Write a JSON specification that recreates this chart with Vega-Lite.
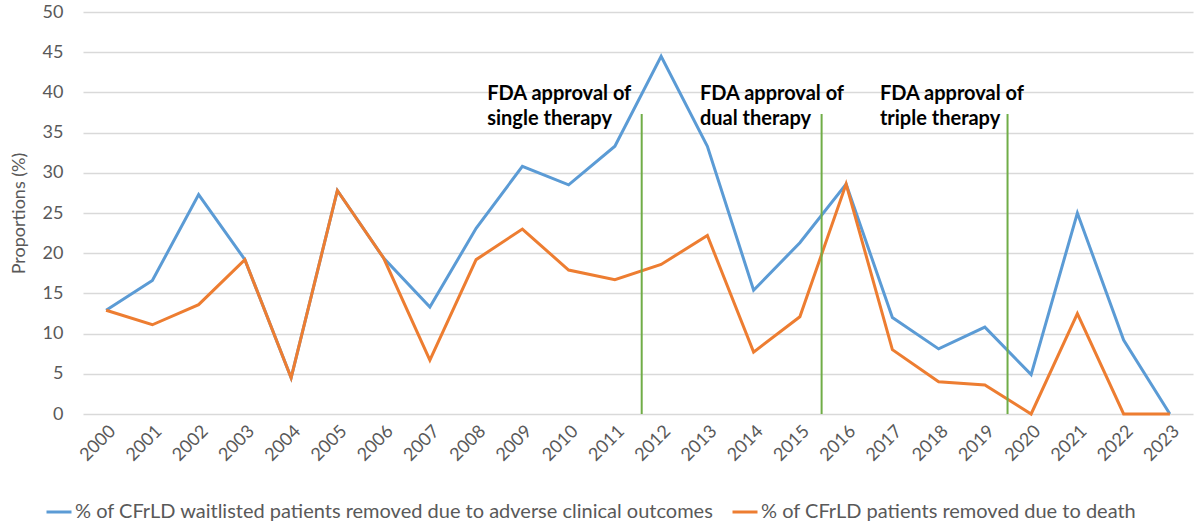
{
  "$schema": "https://vega.github.io/schema/vega-lite/v6.json",
  "autosize": {"type": "none"},
  "width": 1110,
  "height": 402,
  "padding": {"left": 83, "top": 12, "right": 7, "bottom": 115},
  "background": "white",
  "config": {
    "view": {"stroke": null},
    "font": "Lato",
    "axis": {"labelColor": "#595959", "titleColor": "#595959", "labelFont": "Lato", "titleFont": "Lato"}
  },
  "datasets": {
    "series": [
      {"year": 2000, "series": "% of CFrLD waitlisted patients removed due to adverse clinical outcomes", "value": 12.9},
      {"year": 2001, "series": "% of CFrLD waitlisted patients removed due to adverse clinical outcomes", "value": 16.6},
      {"year": 2002, "series": "% of CFrLD waitlisted patients removed due to adverse clinical outcomes", "value": 27.3},
      {"year": 2003, "series": "% of CFrLD waitlisted patients removed due to adverse clinical outcomes", "value": 19.2},
      {"year": 2004, "series": "% of CFrLD waitlisted patients removed due to adverse clinical outcomes", "value": 4.5},
      {"year": 2005, "series": "% of CFrLD waitlisted patients removed due to adverse clinical outcomes", "value": 27.8},
      {"year": 2006, "series": "% of CFrLD waitlisted patients removed due to adverse clinical outcomes", "value": 19.4},
      {"year": 2007, "series": "% of CFrLD waitlisted patients removed due to adverse clinical outcomes", "value": 13.3},
      {"year": 2008, "series": "% of CFrLD waitlisted patients removed due to adverse clinical outcomes", "value": 23.1},
      {"year": 2009, "series": "% of CFrLD waitlisted patients removed due to adverse clinical outcomes", "value": 30.8},
      {"year": 2010, "series": "% of CFrLD waitlisted patients removed due to adverse clinical outcomes", "value": 28.5},
      {"year": 2011, "series": "% of CFrLD waitlisted patients removed due to adverse clinical outcomes", "value": 33.3},
      {"year": 2012, "series": "% of CFrLD waitlisted patients removed due to adverse clinical outcomes", "value": 44.5},
      {"year": 2013, "series": "% of CFrLD waitlisted patients removed due to adverse clinical outcomes", "value": 33.3},
      {"year": 2014, "series": "% of CFrLD waitlisted patients removed due to adverse clinical outcomes", "value": 15.4},
      {"year": 2015, "series": "% of CFrLD waitlisted patients removed due to adverse clinical outcomes", "value": 21.3},
      {"year": 2016, "series": "% of CFrLD waitlisted patients removed due to adverse clinical outcomes", "value": 28.6},
      {"year": 2017, "series": "% of CFrLD waitlisted patients removed due to adverse clinical outcomes", "value": 12.0},
      {"year": 2018, "series": "% of CFrLD waitlisted patients removed due to adverse clinical outcomes", "value": 8.1},
      {"year": 2019, "series": "% of CFrLD waitlisted patients removed due to adverse clinical outcomes", "value": 10.8},
      {"year": 2020, "series": "% of CFrLD waitlisted patients removed due to adverse clinical outcomes", "value": 4.9},
      {"year": 2021, "series": "% of CFrLD waitlisted patients removed due to adverse clinical outcomes", "value": 25.0},
      {"year": 2022, "series": "% of CFrLD waitlisted patients removed due to adverse clinical outcomes", "value": 9.2},
      {"year": 2023, "series": "% of CFrLD waitlisted patients removed due to adverse clinical outcomes", "value": 0},
      {"year": 2000, "series": "% of CFrLD patients removed due to death", "value": 12.9},
      {"year": 2001, "series": "% of CFrLD patients removed due to death", "value": 11.1},
      {"year": 2002, "series": "% of CFrLD patients removed due to death", "value": 13.6},
      {"year": 2003, "series": "% of CFrLD patients removed due to death", "value": 19.2},
      {"year": 2004, "series": "% of CFrLD patients removed due to death", "value": 4.5},
      {"year": 2005, "series": "% of CFrLD patients removed due to death", "value": 27.8},
      {"year": 2006, "series": "% of CFrLD patients removed due to death", "value": 19.4},
      {"year": 2007, "series": "% of CFrLD patients removed due to death", "value": 6.7},
      {"year": 2008, "series": "% of CFrLD patients removed due to death", "value": 19.2},
      {"year": 2009, "series": "% of CFrLD patients removed due to death", "value": 23.0},
      {"year": 2010, "series": "% of CFrLD patients removed due to death", "value": 17.9},
      {"year": 2011, "series": "% of CFrLD patients removed due to death", "value": 16.7},
      {"year": 2012, "series": "% of CFrLD patients removed due to death", "value": 18.6},
      {"year": 2013, "series": "% of CFrLD patients removed due to death", "value": 22.2},
      {"year": 2014, "series": "% of CFrLD patients removed due to death", "value": 7.7},
      {"year": 2015, "series": "% of CFrLD patients removed due to death", "value": 12.1},
      {"year": 2016, "series": "% of CFrLD patients removed due to death", "value": 28.6},
      {"year": 2017, "series": "% of CFrLD patients removed due to death", "value": 8.0},
      {"year": 2018, "series": "% of CFrLD patients removed due to death", "value": 4.0},
      {"year": 2019, "series": "% of CFrLD patients removed due to death", "value": 3.6},
      {"year": 2020, "series": "% of CFrLD patients removed due to death", "value": 0},
      {"year": 2021, "series": "% of CFrLD patients removed due to death", "value": 12.5},
      {"year": 2022, "series": "% of CFrLD patients removed due to death", "value": 0},
      {"year": 2023, "series": "% of CFrLD patients removed due to death", "value": 0}
    ],
    "approvals": [
      {"at": 2011.58, "top": 37.3, "labelX": 2008.24, "labelY": 39.8, "label": "FDA approval of\nsingle therapy"},
      {"at": 2015.47, "top": 37.3, "labelX": 2012.84, "labelY": 39.8, "label": "FDA approval of\ndual therapy"},
      {"at": 2019.49, "top": 37.3, "labelX": 2016.73, "labelY": 39.8, "label": "FDA approval of\ntriple therapy"}
    ]
  },
  "layer": [
    {
      "data": {"name": "series"},
      "mark": {"type": "line", "strokeWidth": 3, "strokeJoin": "miter", "strokeCap": "butt"},
      "encoding": {
        "x": {
          "field": "year",
          "type": "quantitative",
          "scale": {"domain": [1999.5, 2023.5], "nice": false, "zero": false},
          "axis": {
            "title": null,
            "values": [2000, 2001, 2002, 2003, 2004, 2005, 2006, 2007, 2008, 2009, 2010, 2011, 2012, 2013, 2014, 2015, 2016, 2017, 2018, 2019, 2020, 2021, 2022, 2023],
            "format": "d",
            "labelAngle": -45,
            "labelAlign": "right",
            "labelBaseline": "top",
            "labelFontSize": 18,
            "labelPadding": 8,
            "labelFlush": false,
            "labelOverlap": false,
            "ticks": false,
            "domain": false,
            "grid": false
          }
        },
        "y": {
          "field": "value",
          "type": "quantitative",
          "scale": {"domain": [0, 50], "nice": false},
          "axis": {
            "title": "Proportions (%)",
            "titleFontSize": 18,
            "titleFontWeight": "normal",
            "titlePadding": 14,
            "values": [0, 5, 10, 15, 20, 25, 30, 35, 40, 45, 50],
            "labelFontSize": 18,
            "labelPadding": 20,
            "ticks": false,
            "domain": false,
            "grid": true,
            "gridColor": "#d9d9d9",
            "gridWidth": 1.3
          }
        },
        "color": {
          "field": "series",
          "type": "nominal",
          "scale": {
            "domain": ["% of CFrLD waitlisted patients removed due to adverse clinical outcomes", "% of CFrLD patients removed due to death"],
            "range": ["#5B9BD5", "#ED7D31"]
          },
          "legend": {
            "title": null,
            "orient": "none",
            "direction": "horizontal",
            "legendX": -38,
            "legendY": 486,
            "symbolType": "stroke",
            "symbolSize": 625,
            "symbolStrokeWidth": 3,
            "symbolOffset": 0,
            "labelOffset": 2,
            "labelFontSize": 20,
            "labelColor": "#595959",
            "labelLimit": 800,
            "columnPadding": 12
          }
        }
      }
    },
    {
      "data": {"name": "approvals"},
      "mark": {"type": "rule", "color": "#70AD47", "strokeWidth": 2},
      "encoding": {
        "x": {"field": "at", "type": "quantitative"},
        "y": {"field": "top", "type": "quantitative"},
        "y2": {"datum": 0}
      }
    },
    {
      "data": {"name": "approvals"},
      "mark": {"type": "text", "align": "left", "baseline": "middle", "fontWeight": "bold", "fontSize": 20, "color": "#000000", "lineBreak": "\n", "lineHeight": 25},
      "encoding": {
        "x": {"field": "labelX", "type": "quantitative"},
        "y": {"field": "labelY", "type": "quantitative"},
        "text": {"field": "label", "type": "nominal"}
      }
    }
  ]
}
